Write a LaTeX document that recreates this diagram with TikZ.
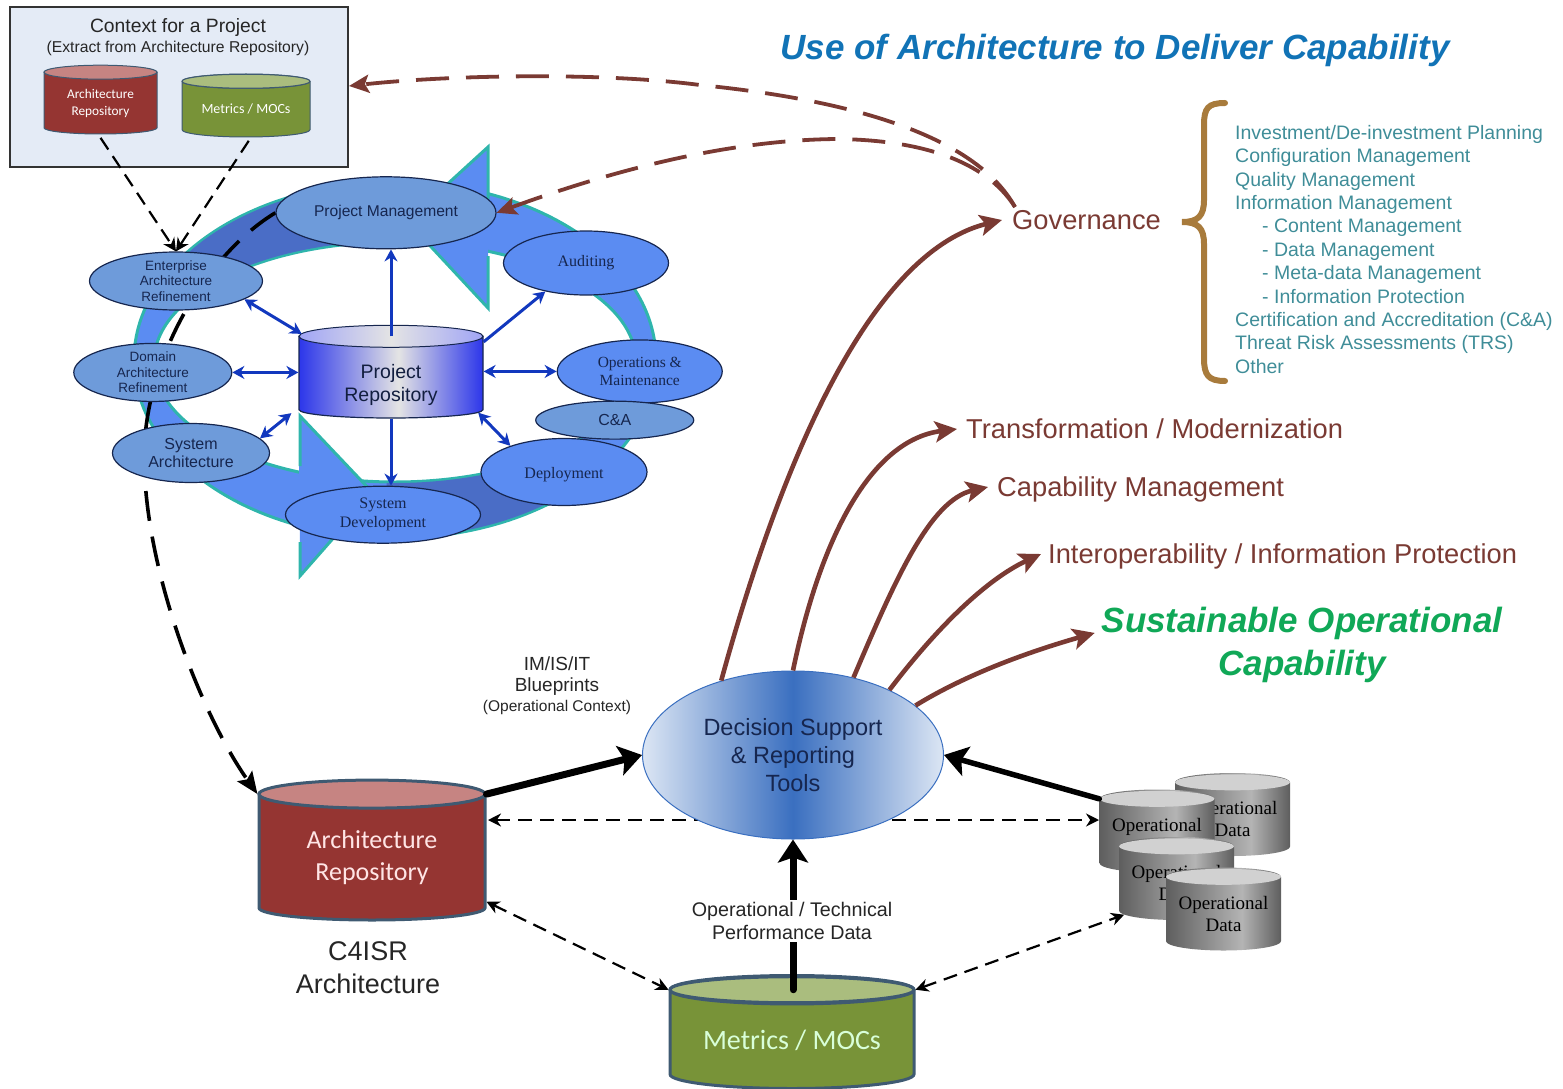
\documentclass[tikz,border=0pt]{standalone}
\usepackage{fontspec}
\setmainfont{Liberation Serif}
\setsansfont{Liberation Sans}
\newfontfamily\drumfont{Carlito}
\usetikzlibrary{calc,positioning,shapes.geometric,arrows.meta,backgrounds}

\newcommand{\fsize}[1]{\fontsize{#1}{#1}\selectfont}

\definecolor{ringblue}{HTML}{5B8CF2}
\definecolor{ringdark}{HTML}{4A6DC6}
\definecolor{ringteal}{HTML}{2FB5AC}
\definecolor{softblue}{HTML}{6E9BDA}
\definecolor{navy}{HTML}{16264F}
\definecolor{arrowblue}{HTML}{1238BE}
\definecolor{wine}{HTML}{7A3A33}
\definecolor{redbody}{HTML}{953532}
\definecolor{redlid}{HTML}{C68482}
\definecolor{greenbody}{HTML}{789338}
\definecolor{greenlid}{HTML}{AABD7E}
\definecolor{steel}{HTML}{3F5A72}
\definecolor{tealtext}{HTML}{3F8D98}
\definecolor{bracegold}{HTML}{A87B3C}
\definecolor{titleblue}{HTML}{1173B6}
\definecolor{titlegreen}{HTML}{10A857}
\definecolor{boxpale}{HTML}{E4EBF6}
\definecolor{repoblue}{HTML}{2C36EA}
\definecolor{repolight}{HTML}{E4E4E4}
\definecolor{decblue}{HTML}{3A6FC0}
\definecolor{decpale}{HTML}{DCE6F4}
\definecolor{opsdark}{HTML}{5E5E5E}
\definecolor{opslight}{HTML}{B4B4B4}

\pgfdeclarehorizontalshading{reposhade}{100bp}{color(0bp)=(repoblue); color(25bp)=(repoblue); color(52bp)=(repolight); color(75bp)=(repoblue); color(100bp)=(repoblue)}
\pgfdeclarehorizontalshading{decshade}{100bp}{color(0bp)=(decpale); color(25bp)=(decpale); color(50bp)=(decblue); color(75bp)=(decpale); color(100bp)=(decpale)}
\pgfdeclarehorizontalshading{opsshade}{100bp}{color(0bp)=(opsdark); color(25bp)=(opsdark); color(58bp)=(opslight); color(75bp)=(opsdark); color(100bp)=(opsdark)}

\begin{document}
\begin{tikzpicture}[
	x=1pt,y=-1pt,
	font=\sffamily,
	drum/.style={
	cylinder,shape border rotate=90,anchor=shape center,inner sep=0pt,align=center,
	},
	lid/.style={
	ellipse,inner sep=0pt,
	},
	bubble/.style={
	ellipse,draw=navy,line width=1.2pt,inner sep=0pt,align=center,text=navy,
	},
	softbubble/.style={
	bubble,fill=softblue,font=\sffamily\fsize{14},
	},
	brightbubble/.style={
	bubble,fill=ringblue,font=\rmfamily\fsize{16},
	},
	inner/.style={
	draw=arrowblue,line width=3pt,>={Stealth[length=12pt,width=13pt]},
	},
	feed/.style={
	draw=black,line width=2.2pt,dash pattern=on 14pt off 8pt,>={Stealth[length=13pt,width=13pt]},
	},
	heavy/.style={
	draw=black,line width=7pt,-{Stealth[length=23pt,width=30pt,inset=5pt]},
	},
	outcome/.style={
	draw=wine,line width=4.6pt,-{Stealth[length=22pt,width=21pt,inset=5pt]},
	},
	govline/.style={
	draw=wine,line width=3.8pt,dash pattern=on 33pt off 17pt,-{Stealth[length=20pt,width=18pt,inset=4pt]},
	},
	result/.style={
	anchor=west,text=wine,font=\sffamily\fsize{27.3},inner sep=9pt,text height=19.5pt,text depth=0pt,
	},
	]

\useasboundingbox (0,0) rectangle (1563,1089);

\node[text=titleblue,font=\sffamily\bfseries\itshape\fsize{35}] (title) at (1115,50) {Use of Architecture to Deliver Capability};

% context box
\node[draw=black!80,line width=1.2pt,fill=boxpale,minimum width=338pt,minimum height=160pt,inner sep=0pt] (ctxbox) at (179,87) {};
\node[align=center,inner sep=0pt,text=black!85] (ctxtitle) at (178,37) {{\fsize{19.3}Context for a Project}\\[3pt]{\fsize{15.7}(Extract from Architecture Repository)}};
\node[drum,fill=redbody,draw=steel,line width=1pt,minimum width=113pt,minimum height=68pt,aspect=0.185,text=white,font=\drumfont\fsize{13.3}] (smallarch) at (100.5,100) {Architecture\\[3pt]Repository};
\node[drum,fill=greenbody,draw=steel,line width=1pt,minimum width=128pt,minimum height=63pt,aspect=0.163,text=white,font=\drumfont\fsize{14}] (smallmetrics) at (246,105.5) {Metrics / MOCs};
\node[lid,fill=redlid,draw=steel,line width=1pt,minimum width=113pt,minimum height=14pt] (smallarchlid) at ($(smallarch.before top)!.5!(smallarch.after top)$) {};
\node[lid,fill=greenlid,draw=steel,line width=1pt,minimum width=128pt,minimum height=14pt] (smallmetricslid) at ($(smallmetrics.before top)!.5!(smallmetrics.after top)$) {};

% project wheel
\node[drum,shading=reposhade,draw=navy,line width=1.2pt,minimum width=184pt,minimum height=90pt,aspect=0.178,text=navy!80!black,font=\sffamily\fsize{19.5}] (repo) at (391,373) {\rule{0pt}{29pt}Project\\[3pt]Repository};
\node[lid,left color=repoblue!45!white,right color=repoblue!45!white,middle color=repolight,draw=navy,line width=1pt,minimum width=184pt,minimum height=22pt] (repolid) at ($(repo.before top)!.5!(repo.after top)$) {};

\node[softbubble,above=78pt of repo,xshift=-5pt,minimum width=220pt,minimum height=72pt,font=\sffamily\fsize{15.6}] (pm) {Project Management};
\node[softbubble,minimum width=173pt,minimum height=58pt,font=\sffamily\fsize{13.5}] (enterprise) at (176,281) {Enterprise\\[2pt]Architecture\\[2pt]Refinement};
\node[softbubble,left=66pt of repo,yshift=5pt,minimum width=158pt,minimum height=58pt,font=\sffamily\fsize{13.5}] (domain) {Domain\\[2pt]Architecture\\[2pt]Refinement};
\node[softbubble,minimum width=157pt,minimum height=59pt,font=\sffamily\fsize{16}] (sysarch) at (191,453) {System\\[2pt]Architecture};
\node[brightbubble,below=67pt of repo,xshift=-8pt,minimum width=195pt,minimum height=57pt] (sysdev) {System\\[3pt]Development};
\node[brightbubble,minimum width=166pt,minimum height=67pt] (deploy) at (564,472) {\rule{0pt}{17pt}Deployment};
\node[brightbubble,right=73pt of repo,yshift=6pt,minimum width=165pt,minimum height=63pt,font=\rmfamily\fsize{15.5}] (ops) {Operations \&\\[3pt]Maintenance};
\node[softbubble,below=-1pt of ops,xshift=-25pt,yshift=2pt,minimum width=158pt,minimum height=38pt,font=\sffamily\fsize{16}] (ca) {C\&A};
\node[brightbubble,minimum width=165pt,minimum height=64pt] (audit) at (586,263) {Auditing};

% lower part
\node[drum,fill=redbody,draw=steel,line width=3pt,minimum width=226pt,minimum height=138pt,aspect=0.185,text=white!90!red,font=\drumfont\fsize{26}] (arch) at (372,851) {Architecture\\[6pt]Repository};
\node[lid,fill=redlid,draw=steel,line width=3pt,minimum width=226pt,minimum height=28pt] (archlid) at ($(arch.before top)!.5!(arch.after top)$) {};
\node[below=20pt of arch,align=center,xshift=-4pt,inner sep=0pt,text=black!85,font=\sffamily\fsize{27}] (c4isr) {C4ISR\\[6pt]Architecture};

\node[drum,fill=greenbody,draw=steel,line width=3pt,minimum width=244pt,minimum height=113pt,aspect=0.16,text=white!85!green,font=\drumfont\fsize{28}] (metrics) at (792,1032) {Metrics / MOCs};
\node[lid,fill=greenlid,draw=steel,line width=3pt,minimum width=244pt,minimum height=26pt] (metricslid) at ($(metrics.before top)!.5!(metrics.after top)$) {};

\node[ellipse,shading=decshade,draw=decblue,line width=1pt,minimum width=301pt,minimum height=168pt,inner sep=0pt,align=center,text=navy,font=\sffamily\fsize{23.5}] (dec) at (793,755) {Decision Support\\[4.5pt]\& Reporting\\[4.5pt]Tools};
\node[align=center,inner sep=0pt,text=black!85] (blueprint) at (557,686) {{\fsize{19}IM/IS/IT}\\[6pt]{\fsize{19}Blueprints}\\[4pt]{\fsize{15.5}(Operational Context)}};

\node[drum,shading=opsshade,minimum width=115pt,minimum height=83pt,aspect=0.208,text=black,font=\rmfamily\fsize{19}] (opsa) at (1232.5,814.5) {Operational\\[3pt]Data};
\node[lid,fill=black!18,minimum width=115pt,minimum height=16pt] (opsalid) at ($(opsa.before top)!.5!(opsa.after top)$) {};
\node[drum,shading=opsshade,minimum width=115pt,minimum height=83pt,aspect=0.208,text=black,font=\rmfamily\fsize{19}] (opsb) at (1157,831) {Operational\\[3pt]Data};
\node[lid,fill=black!18,minimum width=115pt,minimum height=16pt] (opsblid) at ($(opsb.before top)!.5!(opsb.after top)$) {};
\node[drum,shading=opsshade,minimum width=115pt,minimum height=83pt,aspect=0.208,text=black,font=\rmfamily\fsize{19}] (opsc) at (1176.5,878.5) {Operational\\[3pt]Data};
\node[lid,fill=black!18,minimum width=115pt,minimum height=16pt] (opsclid) at ($(opsc.before top)!.5!(opsc.after top)$) {};
\node[drum,shading=opsshade,minimum width=115pt,minimum height=83pt,aspect=0.208,text=black,font=\rmfamily\fsize{19}] (opsd) at (1223.5,909) {Operational\\[3pt]Data};
\node[lid,fill=black!18,minimum width=115pt,minimum height=16pt] (opsdlid) at ($(opsd.before top)!.5!(opsd.after top)$) {};

% right side texts
\node[result,inner sep=10pt] (govern) at (1002,220) {Governance};
\node[result] (transform) at (957,429) {Transformation / Modernization};
\node[result] (capman) at (988,487) {Capability Management};
\node[result,inner sep=7pt] (interop) at (1041,554) {Interoperability / Information Protection};
\node[align=center,inner sep=0pt,text=titlegreen,font=\sffamily\bfseries\itshape\fsize{35}] (sustain) at (1302,645) {Sustainable Operational\\[8pt]Capability};
\node[anchor=north west,align=left,inner sep=0pt,text=tealtext,font=\sffamily\fsize{19.5}] (govlist) at (1235,125) {Investment/De-investment Planning\\[3.9pt]Configuration Management\\[3.9pt]Quality Management\\[3.9pt]Information Management\\[3.9pt]\hspace{27pt}- Content Management\\[3.9pt]\hspace{27pt}- Data Management\\[3.9pt]\hspace{27pt}- Meta-data Management\\[3.9pt]\hspace{27pt}- Information Protection\\[3.9pt]Certification and Accreditation (C\&A)\\[3.9pt]Threat Risk Assessments (TRS)\\[3.9pt]Other};

\draw[bracegold,line width=6pt,line cap=round] (1225,103) .. controls (1208,103) and (1204,108) .. (1204,125) -- (1204,200) .. controls (1204,216) and (1198,222) .. (1182,222) .. controls (1198,222) and (1204,228) .. (1204,244) -- (1204,358) .. controls (1204,375) and (1208,381) .. (1225,381);

\coordinate (ctxin) at (349,86);
\coordinate (govstart) at (1015,207);
\coordinate (dashleft) at (488,820);
\coordinate (dashright) at (1099,820);

\begin{pgfonlayer}{background}
% the wheel
\fill[ringblue,draw=ringteal,line width=3pt,even odd rule] (395,360) ellipse [x radius=261,y radius=178] (395,362) ellipse [x radius=241,y radius=120];
\fill[ringdark] plot[smooth,domain=205:262,samples=25] ({395+260*cos(\x)},{360+177*sin(\x)}) -- plot[smooth,domain=262:205,samples=25] ({395+242*cos(\x)},{362+121*sin(\x)}) -- cycle;
\fill[ringdark] plot[smooth,domain=38:92,samples=25] ({395+260*cos(\x)},{360+177*sin(\x)}) -- plot[smooth,domain=92:38,samples=25] ({395+242*cos(\x)},{362+121*sin(\x)}) -- cycle;
\fill[ringblue] (488,147) -- (407,221) -- (488,308) -- (488,256) -- (489,199) -- cycle;
\draw[ringteal,line width=3pt] (488,199) -- (488,147) -- (407,221) -- (488,308) -- (488,256);
\fill[ringblue] (300,416) -- (373,493) -- (300,576) -- (300,542) -- (299,466) -- cycle;
\draw[ringteal,line width=3pt] (300,466) -- (300,416) -- (373,493) -- (300,576) -- (300,542);
% behind the bubbles
\draw[draw=black,line width=3.6pt,dash pattern=on 30pt off 16pt,-{Stealth[length=22pt,width=18pt,inset=4pt]}] (pm.west) .. controls (205,255) and (135,370) .. (145,480) .. controls (152,590) and (205,720) .. (arch.before top);
\draw[<->,feed] (dashleft) to (dashright);
\end{pgfonlayer}

\draw[->,feed,shorten <=4pt] (smallarch.-94) to (enterprise.north);
\draw[->,feed,shorten <=4pt] (smallmetrics.-80) to (enterprise.north);

\draw[<->,inner] (repo.154) to (enterprise.-15);
\draw[<->,inner] (repo.west |- domain) to (domain);
\draw[<->,inner,shorten <=9pt] (repo.198) to (sysarch.12);
\draw[<->,inner] (repo.east |- ops) to (ops);
\draw[<->,inner] (repo.-22) to (deploy.154);
\draw[->,inner] (repolid.center) to (repolid.center |- pm.south);
\draw[->,inner] (repo.21) to (audit.215);
\draw[->,inner] (repo.south) to (repo.south |- sysdev.north);

\draw[govline] (govstart) .. controls (975,135) and (850,100) .. (700,85) .. controls (600,72) and (450,75) .. (ctxin);
\draw[govline] (govstart) .. controls (985,160) and (920,140) .. (837,139) .. controls (720,140) and (600,175) .. (pm.east);

\draw[outcome] (dec.134) .. controls (790,430) and (880,250) .. (govern.west);
\draw[outcome] (dec.90) .. controls (820,540) and (870,440) .. (transform.west);
\draw[outcome] (dec.52) .. controls (895,580) and (930,500) .. (capman.west);
\draw[outcome] (dec.34) .. controls (935,630) and (985,580) .. (interop.west);
\draw[outcome,shorten >=7pt] (dec.22) .. controls (970,672) and (1035,650) .. (sustain.176);

\draw[heavy,line cap=round] (arch.after top) to (dec.west);
\draw[heavy,line cap=round,line width=5.5pt] (opsb.before top) to (dec.east);
\draw[heavy,line cap=round] (dec.south |- metricslid.center) to (dec.south);
\node[fill=white,align=center,inner sep=2pt,text=black!85,font=\sffamily\fsize{19.7}] (perf) at (792,921) {Operational / Technical\\[4pt]Performance Data};

\draw[<->,feed] (arch.-21) to (metricslid.west);
\draw[<->,feed] (metricslid.east) to (opsc.211);

\end{tikzpicture}
\end{document}
